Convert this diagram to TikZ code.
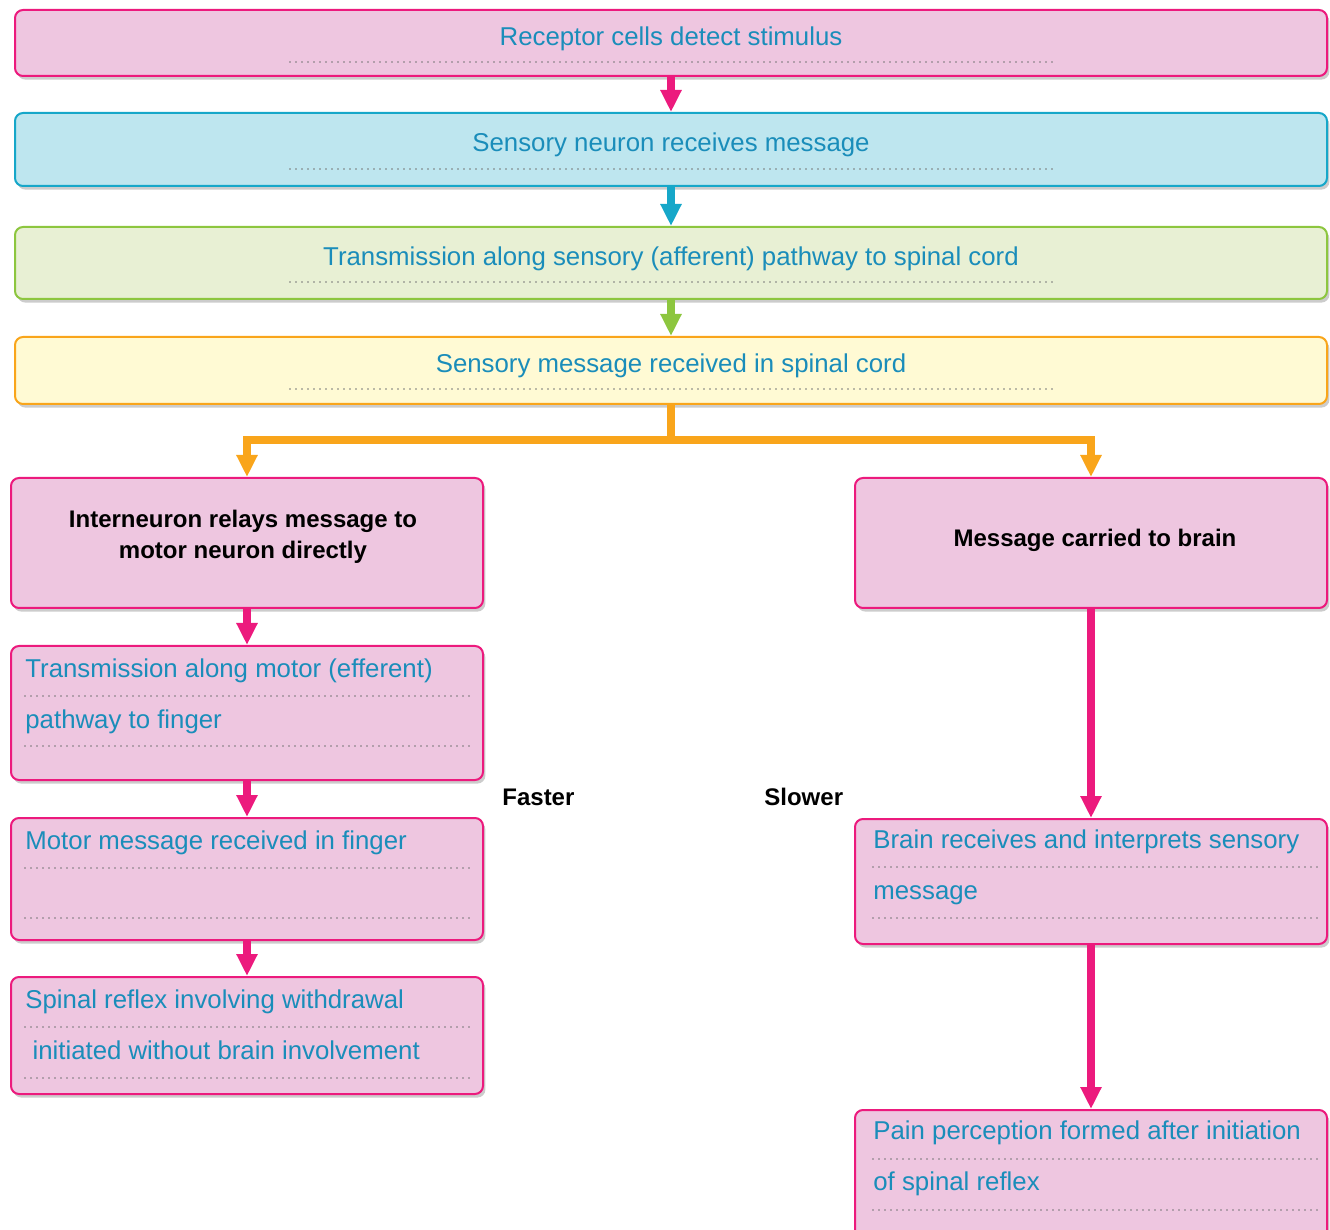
\documentclass[tikz,border=0pt]{standalone}
\usepackage{fontspec}
\setmainfont{Liberation Sans}
\usetikzlibrary{arrows.meta,shadows}

\definecolor{pinkfill}{HTML}{EEC6E0}
\definecolor{pinkline}{HTML}{EC1A7D}
\definecolor{cyanfill}{HTML}{BEE6EF}
\definecolor{cyanline}{HTML}{16A7C9}
\definecolor{greenfill}{HTML}{E8F0D4}
\definecolor{greenline}{HTML}{8DC63F}
\definecolor{yellowfill}{HTML}{FFFAD4}
\definecolor{yellowline}{HTML}{F9A51B}
\definecolor{txtblue}{HTML}{1A8DBA}
\definecolor{dotgray}{HTML}{777777}

\tikzset{
  box/.style={draw, rounded corners=4pt, line width=1pt, inner sep=0pt,
    drop shadow={opacity=0.4, shadow xshift=1.2pt, shadow yshift=-1.8pt}},
  pinkbox/.style={box, draw=pinkline, fill=pinkfill},
  wide/.style={minimum width=656pt},
  narrow/.style={minimum width=236pt},
  flow/.style={line width=3.8pt, -{Triangle[length=11pt,width=10pt]}},
  bluetxt/.style={text=txtblue, font=\fontsize{12.9}{15}\selectfont, inner sep=0pt},
  boldtxt/.style={font=\fontsize{12}{15.5}\bfseries, inner sep=0pt, align=center},
  dotline/.style={draw=dotgray, line width=0.9pt, line cap=round,
    dash pattern=on 0pt off 3pt}
}

\begin{document}
\begin{tikzpicture}[x=0.5pt,y=-0.5pt]
\useasboundingbox (0,0) rectangle (1330,1230);

% top column
\node [box, wide, draw=pinkline, fill=pinkfill, minimum height=33pt] (rec) at (671,43) {};
\node [box, wide, draw=cyanline, fill=cyanfill, minimum height=36.5pt] (sens) at (671,149.5) {};
\node [box, wide, draw=greenline, fill=greenfill, minimum height=36pt] (path) at (671,263) {};
\node [box, wide, draw=yellowline, fill=yellowfill, minimum height=33.5pt] (spin) at (671,370.5) {};

\node [bluetxt, anchor=base] (rect) at (671,46) {Receptor cells detect stimulus};
\node [bluetxt, anchor=base] (senst) at (671,152) {Sensory neuron receives message};
\node [bluetxt, anchor=base] (patht) at (671,266) {Transmission along sensory (afferent) pathway to spinal cord};
\node [bluetxt, anchor=base] (spint) at (671,373) {Sensory message received in spinal cord};

\foreach \y in {62,169,282,389} {
	\draw [dotline] (290,\y) -- (1053,\y);
}

\draw [flow, pinkline] (rec) -- (sens);
\draw [flow, cyanline] (sens) -- (path);
\draw [flow, greenline] (path) -- (spin);

% branches
\node [pinkbox, narrow, minimum height=65pt] (inter) at (247,543) {};
\node [pinkbox, narrow, minimum height=65pt] (brain) at (1091,543) {};
\node [boldtxt] (intert) at (243,537) {Interneuron relays message to\\motor neuron directly};
\node [boldtxt, anchor=base] (braint) at (1095,546) {Message carried to brain};

\draw [flow, yellowline] (spin.south) -- ++(0,35) coordinate (split) -| (inter);
\draw [flow, yellowline] (split) -| (brain);

% fast route
\node [pinkbox, narrow, minimum height=67pt] (motor) at (247,713) {};
\node [pinkbox, narrow, minimum height=61pt] (finger) at (247,879) {};
\node [pinkbox, narrow, minimum height=58.5pt] (reflex) at (247,1035.5) {};

\node [bluetxt, anchor=base west] (motor1) at (25,677) {Transmission along motor (efferent)};
\node [bluetxt, anchor=base west] (motor2) at (25,728) {pathway to finger};
\node [bluetxt, anchor=base west] (finger1) at (25,849) {Motor message received in finger};
\node [bluetxt, anchor=base west] (reflex1) at (25,1008) {Spinal reflex involving withdrawal};
\node [bluetxt, anchor=base west] (reflex2) at (25,1059) {\ initiated without brain involvement};

\foreach \y in {696,746,868,918,1027,1078} {
	\draw [dotline] (25,\y) -- (471,\y);
}

\draw [flow, pinkline] (inter) -- (motor);
\draw [flow, pinkline] (motor) -- (finger);
\draw [flow, pinkline] (finger) -- (reflex);

% slow route
\node [pinkbox, narrow, minimum height=62.5pt] (interp) at (1091,881.5) {};
\node [pinkbox, narrow, minimum height=70pt] (pain) at (1091,1180) {};

\node [bluetxt, anchor=base west] (interp1) at (873,848) {Brain receives and interprets sensory};
\node [bluetxt, anchor=base west] (interp2) at (873,899) {message};
\node [bluetxt, anchor=base west] (pain1) at (873,1139) {Pain perception formed after initiation};
\node [bluetxt, anchor=base west] (pain2) at (873,1190) {of spinal reflex};

\foreach \y in {867,918,1159,1210} {
	\draw [dotline] (873,\y) -- (1317,\y);
}

\draw [flow, pinkline] (brain) -- (interp);
\draw [flow, pinkline] (interp) -- (pain);

\node [boldtxt, anchor=base west] (fast) at (502,805) {Faster};
\node [boldtxt, anchor=base west] (slow) at (764,805) {Slower};

\end{tikzpicture}
\end{document}
